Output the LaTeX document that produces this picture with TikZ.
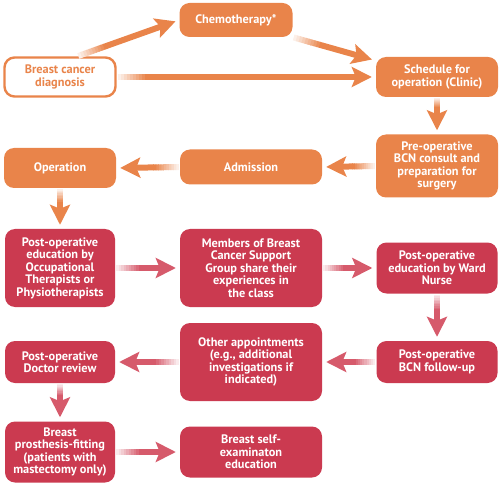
\documentclass[tikz,border=0pt]{standalone}
\usepackage{fontspec}
\setmainfont{PT Sans}
\usetikzlibrary{arrows.meta,calc}
\definecolor{borange}{HTML}{E9844A}
\definecolor{bred}{HTML}{CB3A50}
\definecolor{ared}{HTML}{D65A6B}
\tikzset{
  box/.style={rounded corners=10pt, align=center, font=\bfseries\fontsize{12.3}{12.5}\selectfont, text=white, inner sep=1pt},
  obox/.style={box, fill=borange},
  rbox/.style={box, fill=bred},
  headtip/.style={-{Stealth[length=20pt, width=20pt, inset=4pt]}},
  shaft/.style={line width=6pt},
}
% #1 start, #2 end, #3 colour, #4 fade length (pt)
\newcommand{\flowarrow}[4]{%
  \coordinate (fa-s) at ($(#1)!1pt!(#2)$);
  \coordinate (fa-e) at ($(#2)!4pt!(#1)$);
  \foreach \i in {0,...,9}{%
    \pgfmathsetmacro\da{\i*#4/10}%
    \pgfmathsetmacro\db{(\i+1)*#4/10+0.6}%
    \pgfmathsetmacro\mixv{int(12+88*\i/9)}%
    \draw[shaft, #3!\mixv!white] ($(fa-s)!\da pt!(fa-e)$) -- ($(fa-s)!\db pt!(fa-e)$);
  }
  \draw[shaft, headtip, #3] ($(fa-s)!#4pt!(fa-e)$) -- (fa-e);
}
\begin{document}
\begin{tikzpicture}[x=1pt, y=-1pt]
\useasboundingbox (0,0) rectangle (500,486);
\node[obox, minimum width=113pt, minimum height=34pt] (chemo) at (236,20) {Chemotherapy*};
\node[box, draw=borange, line width=2.4pt, fill=white, text=borange, minimum width=111pt, minimum height=39pt] (diag) at (60,77) {Breast cancer\\diagnosis};
\node[obox, minimum width=122pt, minimum height=40pt] (sched) at (437,77) {Schedule for\\operation (Clinic)};
\node[obox, minimum width=122pt, minimum height=63pt] (preop) at (437,166) {Pre-operative\\BCN consult and\\preparation for\\surgery};
\node[obox, minimum width=142pt, minimum height=35pt] (adm) at (251,167) {Admission};
\node[obox, minimum width=112pt, minimum height=40pt] (op) at (60,168) {Operation};
\node[rbox, minimum width=110pt, minimum height=78pt] (ot) at (60,268) {Post-operative\\education by\\Occupational\\Therapists or\\Physiotherapists};
\node[rbox, minimum width=142pt, minimum height=78pt] (mem) at (251,268) {Members of Breast\\Cancer Support\\Group share their\\experiences in\\the class};
\node[rbox, minimum width=121pt, minimum height=51pt] (ward) at (437,268) {Post-operative\\education by Ward\\Nurse};
\node[rbox, minimum width=110pt, minimum height=42pt] (doc) at (60,362) {Post-operative\\Doctor review};
\node[rbox, minimum width=142pt, minimum height=78pt] (other) at (251,362) {Other appointments\\(e.g., additional\\investigations if\\indicated)};
\node[rbox, minimum width=121pt, minimum height=42pt] (bcnf) at (437,362) {Post-operative\\BCN follow-up};
\node[rbox, minimum width=110pt, minimum height=61pt] (pros) at (60,452) {Breast\\prosthesis-fitting\\(patients with\\mastectomy only)};
\node[rbox, minimum width=142pt, minimum height=51pt] (self) at (251,452) {Breast self-\\examinaton\\education};

\flowarrow{diag.50}{chemo.west}{borange}{30}
\flowarrow{chemo.south east}{sched.165}{borange}{30}
\flowarrow{diag.east}{sched.west}{borange}{30}
\flowarrow{sched.south}{preop.north}{borange}{10}
\flowarrow{preop.west}{adm.east}{borange}{22}
\flowarrow{adm.west}{op.east}{borange}{25}
\flowarrow{op.south}{ot.north}{borange}{14}
\flowarrow{ot.east}{mem.west}{ared}{25}
\flowarrow{mem.east}{ward.west}{ared}{22}
\flowarrow{ward.south}{bcnf.north}{ared}{16}
\flowarrow{bcnf.west}{other.east}{ared}{22}
\flowarrow{other.west}{doc.east}{ared}{25}
\flowarrow{doc.south}{pros.north}{ared}{12}
\flowarrow{pros.east}{self.west}{ared}{25}
\end{tikzpicture}
\end{document}
